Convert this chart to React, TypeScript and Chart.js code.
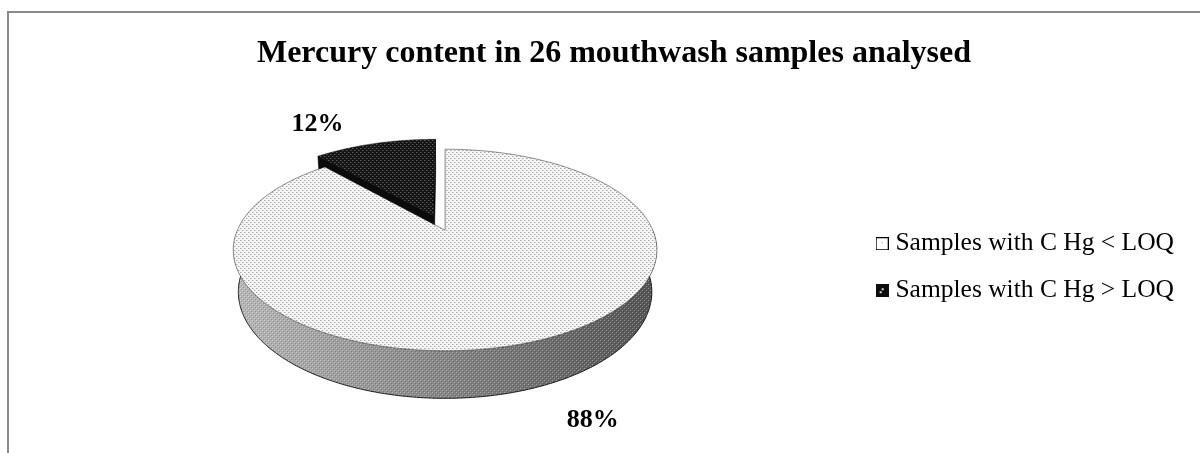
import { useEffect, useRef } from 'react';
import { Chart, registerables } from 'chart.js';

Chart.register(...registerables);

// ---- data ----
const chartTitle = 'Mercury content in 26 mouthwash samples analysed';
const categories = ['Samples with C Hg < LOQ', 'Samples with C Hg > LOQ'];
const sampleCounts = [23, 3];

// ---- styling ----
const SERIF = '"Times New Roman", "Liberation Serif", Times, serif';

// perspective camera for the extruded pie (radius = 1 world unit)
const VIEW = {
  elevation: (27.8 * Math.PI) / 180,
  distance: 4.51,
  depth: 0.23,
  scale: 1.175,
  dx: -7,
  dy: -37,
};
const EXPLODE = [0, 0.16];
const LABEL_SHIFT: [number, number][] = [
  [60, 32],
  [-57, -19],
];

function makeTile(bg: string, dots: [number, number, string][], size = 4) {
  const c = document.createElement('canvas');
  c.width = size;
  c.height = size;
  const g = c.getContext('2d')!;
  if (bg) {
    g.fillStyle = bg;
    g.fillRect(0, 0, size, size);
  }
  dots.forEach(([x, y, col]) => {
    g.fillStyle = col;
    g.fillRect(x, y, 1, 1);
  });
  return c;
}

function makeLegendIcon(dark: boolean) {
  const c = document.createElement('canvas');
  c.width = 13;
  c.height = 13;
  const g = c.getContext('2d')!;
  if (dark) {
    g.fillStyle = '#0e0e0e';
    g.fillRect(0, 0, 13, 13);
    g.fillStyle = '#e0e0e0';
    g.fillRect(6, 4, 2, 2);
    g.fillRect(4, 7, 2, 2);
  } else {
    g.fillStyle = '#ffffff';
    g.fillRect(0, 0, 13, 13);
    g.strokeStyle = '#000';
    g.lineWidth = 1;
    g.strokeRect(0.5, 0.5, 12, 12);
    g.fillStyle = '#8a8a8a';
    g.fillRect(6, 5, 1, 1);
  }
  return c;
}

type Slice = { i: number; s: number; t: number; m: number; ox: number; oz: number };

const framePlugin = {
  id: 'frame',
  beforeDraw(chart: any) {
    const { ctx, width, height } = chart;
    ctx.save();
    ctx.fillStyle = '#ffffff';
    ctx.fillRect(0, 0, width, height);
    ctx.fillStyle = '#8a8a8a';
    ctx.fillRect(7, 11, 2, height - 11);
    ctx.fillRect(7, 11, width - 7, 2);
    ctx.restore();
  },
};

const pie3dPlugin = {
  id: 'pie3d',
  beforeDatasetsDraw(chart: any) {
    const ctx: CanvasRenderingContext2D = chart.ctx;
    const meta = chart.getDatasetMeta(0);
    const arcs = meta.data as any[];
    if (!arcs.length) return false;
    const values: number[] = chart.data.datasets[0].data;
    const total = values.reduce((a, b) => a + b, 0);

    const cx = arcs[0].x + VIEW.dx;
    const cy = arcs[0].y + VIEW.dy;
    const K = arcs[0].outerRadius * VIEW.scale;
    const D = VIEW.distance;
    const H = VIEW.depth;
    const cosE = Math.cos(VIEW.elevation);
    const sinE = Math.sin(VIEW.elevation);
    const F = K * D;

    const P = (X: number, Y: number, Z: number): [number, number] => {
      const w = D - Z * cosE - Y * sinE;
      return [cx + (F * X) / w, cy - (F * (Y * cosE - Z * sinE)) / w];
    };
    const rim = (sl: Slice, a: number, Y: number, r = 1) =>
      P(sl.ox + r * Math.cos(a), Y, sl.oz + r * Math.sin(a));
    const arcPath = (sl: Slice, a: number, b: number, Y: number, first: boolean) => {
      const n = Math.max(2, Math.ceil(Math.abs(b - a) / 0.01));
      for (let k = 0; k <= n; k++) {
        const [x, y] = rim(sl, a + ((b - a) * k) / n, Y);
        if (first && k === 0) ctx.moveTo(x, y);
        else ctx.lineTo(x, y);
      }
    };

    const tileLight = ctx.createPattern(
      makeTile('#f5f5f5', [
        [0, 0, '#a9a9a9'],
        [2, 2, '#a9a9a9'],
        [1, 0, '#d2d2d2'],
        [3, 2, '#d2d2d2'],
      ]),
      'repeat'
    )!;
    const tileDark = ctx.createPattern(
      makeTile('#151515', [
        [0, 0, '#5c5c5c'],
        [2, 2, '#5c5c5c'],
        [1, 0, '#333333'],
        [3, 2, '#333333'],
      ]),
      'repeat'
    )!;
    const tileWall = ctx.createPattern(
      makeTile('', [
        [0, 0, 'rgba(255,255,255,0.35)'],
        [2, 2, 'rgba(255,255,255,0.35)'],
        [1, 1, 'rgba(0,0,0,0.18)'],
        [3, 3, 'rgba(0,0,0,0.18)'],
      ]),
      'repeat'
    )!;
    const wallGrad = ctx.createLinearGradient(cx - K, 0, cx + K, 0);
    wallGrad.addColorStop(0, '#b8b8b8');
    wallGrad.addColorStop(0.45, '#8a8a8a');
    wallGrad.addColorStop(1, '#545454');

    const slices: Slice[] = arcs
      .map((arc, i) => {
        const s = arc.startAngle;
        const t = arc.endAngle;
        const m = (s + t) / 2;
        const ex = EXPLODE[i] || 0;
        return { i, s, t, m, ox: ex * Math.cos(m), oz: ex * Math.sin(m) };
      })
      .sort((a, b) => Math.sin(a.m) - Math.sin(b.m));

    const camZ = D * cosE;
    ctx.save();
    ctx.lineJoin = 'round';
    slices.forEach((sl) => {
      const dark = sl.i === 1;
      // radial cut faces
      const edges: [number, number, number][] = [
        [sl.s, Math.sin(sl.s), -Math.cos(sl.s)],
        [sl.t, -Math.sin(sl.t), Math.cos(sl.t)],
      ];
      edges.forEach(([a, nx, nz]) => {
        if (nx * -sl.ox + nz * (camZ - sl.oz) <= 0) return;
        ctx.beginPath();
        const v0 = P(sl.ox, 0, sl.oz);
        const r0 = rim(sl, a, 0);
        const r1 = rim(sl, a, -H);
        const v1 = P(sl.ox, -H, sl.oz);
        ctx.moveTo(v0[0], v0[1]);
        ctx.lineTo(r0[0], r0[1]);
        ctx.lineTo(r1[0], r1[1]);
        ctx.lineTo(v1[0], v1[1]);
        ctx.closePath();
        ctx.fillStyle = dark ? '#0b0b0b' : '#9a9a9a';
        ctx.fill();
        ctx.strokeStyle = 'rgba(0,0,0,0.8)';
        ctx.lineWidth = 0.8;
        ctx.stroke();
      });
      // outer wall, front half only
      [-2 * Math.PI, 0, 2 * Math.PI].forEach((base) => {
        const a = Math.max(sl.s, base);
        const b = Math.min(sl.t, base + Math.PI);
        if (b <= a) return;
        ctx.beginPath();
        arcPath(sl, a, b, 0, true);
        arcPath(sl, b, a, -H, false);
        ctx.closePath();
        ctx.fillStyle = dark ? '#111111' : wallGrad;
        ctx.fill();
        if (!dark) {
          ctx.fillStyle = tileWall;
          ctx.fill();
        }
        ctx.beginPath();
        arcPath(sl, a, b, -H, true);
        ctx.strokeStyle = 'rgba(0,0,0,0.85)';
        ctx.lineWidth = 1;
        ctx.stroke();
      });
      // top face
      ctx.beginPath();
      const v = P(sl.ox, 0, sl.oz);
      ctx.moveTo(v[0], v[1]);
      arcPath(sl, sl.s, sl.t, 0, false);
      ctx.closePath();
      ctx.fillStyle = dark ? tileDark : tileLight;
      ctx.fill();
      ctx.strokeStyle = 'rgba(0,0,0,0.55)';
      ctx.lineWidth = 0.8;
      ctx.stroke();
    });

    // percentage labels
    ctx.fillStyle = '#000';
    ctx.font = `bold 26px ${SERIF}`;
    ctx.textAlign = 'center';
    ctx.textBaseline = 'middle';
    slices.forEach((sl) => {
      const pct = Math.round((values[sl.i] / total) * 100) + '%';
      const front = Math.sin(sl.m) > 0;
      const [lx, ly] = rim(sl, sl.m, front ? -H : 0);
      const sh = LABEL_SHIFT[sl.i] || [0, 0];
      ctx.fillText(pct, lx + sh[0], ly + sh[1]);
    });
    ctx.restore();
    return false;
  },
};

export default function App() {
  const ref = useRef<HTMLCanvasElement>(null);

  useEffect(() => {
    const canvas = ref.current;
    if (!canvas) return;
    const icons = [makeLegendIcon(false), makeLegendIcon(true)];
    const chart = new Chart(canvas, {
      type: 'pie',
      data: {
        labels: categories,
        datasets: [
          {
            data: sampleCounts,
            backgroundColor: ['#eeeeee', '#151515'],
            borderWidth: 0,
          },
        ],
      },
      plugins: [framePlugin, pie3dPlugin],
      options: {
        responsive: false,
        animation: false,
        events: [],
        layout: { padding: { left: 44, right: 16, top: 0, bottom: 9 } },
        plugins: {
          title: {
            display: true,
            text: chartTitle,
            color: '#000',
            font: { family: SERIF, size: 32, weight: 'bold' },
            padding: { top: 35, bottom: 17 },
          },
          legend: {
            position: 'right',
            align: 'center',
            fullSize: false,
            labels: {
              usePointStyle: true,
              pointStyleWidth: 1,
              padding: 21.5,
              color: '#000',
              font: { family: SERIF, size: 25.5 },
              generateLabels: () =>
                categories.map((text, i) => ({
                  text,
                  pointStyle: icons[i],
                  fillStyle: i === 0 ? '#ffffff' : '#111111',
                  strokeStyle: '#000',
                  lineWidth: 0,
                  hidden: false,
                  index: i,
                  datasetIndex: 0,
                })),
            },
          },
          tooltip: { enabled: false },
        },
      } as any,
    });
    return () => chart.destroy();
  }, []);

  return (
    <div style={{ position: 'absolute', left: 0, top: 0, width: 1200, height: 453, background: '#fff' }}>
      <canvas ref={ref} width={1200} height={453} style={{ display: 'block' }} />
    </div>
  );
}
